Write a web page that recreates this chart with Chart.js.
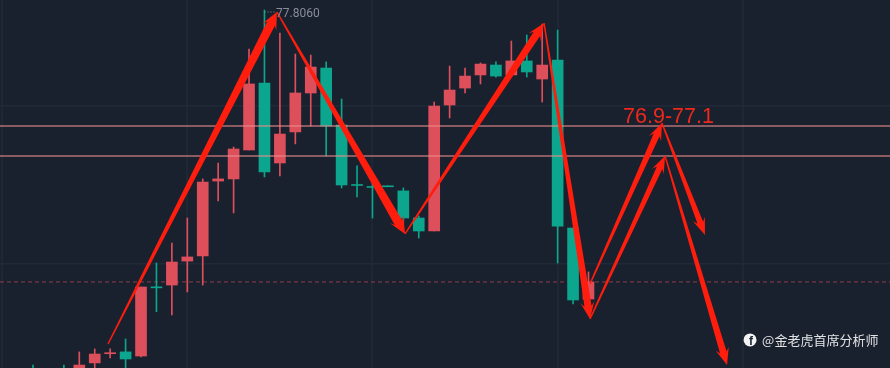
<!DOCTYPE html>
<html>
<head>
<meta charset="utf-8">
<style>html,body{margin:0;padding:0;background:#1a212e;overflow:hidden}canvas{display:block}</style>
<script src="https://cdn.jsdelivr.net/npm/chart.js@4"></script>
</head>
<body>
<canvas id="c" width="890" height="368"></canvas>
<script>
const opens  = [75.60,75.55,75.60,75.58,75.658,75.714,75.725,75.700,76.121,76.132,76.278,76.309,76.765,76.778,76.954,77.362,76.875,77.064,77.301,77.453,77.106,76.744,76.732,76.736,76.705,76.540,76.461,77.228,77.331,77.411,77.471,77.411,77.496,77.386,77.502,76.479,76.047];
const highs  = [75.645,75.60,75.645,75.725,75.743,75.743,75.804,76.120,76.266,76.388,76.540,76.778,76.875,76.972,77.569,77.806,77.666,77.538,77.532,77.490,77.264,76.857,76.759,76.736,76.723,76.552,77.246,77.465,77.453,77.484,77.490,77.617,77.654,77.720,77.684,76.479,76.212];
const lows   = [75.50,75.45,75.50,75.55,75.60,75.688,75.60,75.694,75.970,75.950,76.090,76.132,76.644,76.571,76.954,76.790,76.796,76.991,77.100,76.918,76.723,76.668,76.540,76.730,76.510,76.418,76.461,77.149,77.301,77.356,77.398,77.411,77.398,77.246,76.266,76.017,76.047];
const closes = [75.58,75.50,75.57,75.645,75.712,75.720,75.682,76.120,76.115,76.272,76.303,76.759,76.778,76.960,77.356,76.820,77.051,77.301,77.459,77.100,76.741,76.738,76.726,76.730,76.540,76.461,77.222,77.319,77.404,77.477,77.404,77.496,77.429,77.471,76.491,76.041,76.151];

const xMin = -2.139, xMax = 55.54, yMin = 75.627, yMax = 77.867;
const gridIndexes = [-2,10,22,34,46];
const gridPrices = [77.222,76.260];
const zoneLevels = [77.100,76.918];
const lastPrice = 76.151;

const arrowFromX = [4.86,15.81,24.11,33.12,36.10,36.10,40.76,40.96];
const arrowFromY = [75.773,77.794,76.443,77.727,76.139,75.925,77.118,76.918];
const arrowToX   = [15.81,24.11,33.12,36.10,40.76,40.96,43.55,44.98];
const arrowToY   = [77.794,76.443,77.727,75.925,77.118,76.918,76.437,75.645];

const zoneLabel = '76.9-77.1';
const highLabel = '77.8060';
const watermark = '@金老虎首席分析师';

const RED='#de4f5c', GREEN='#0ba68d';
const idx = opens.map((_,i)=>i);
const colors = idx.map(i=>closes[i]>=opens[i]?RED:GREEN);

const overlay = {
  id:'overlay',
  afterDatasetsDraw(chart){
    const {ctx,scales:{x,y}} = chart;
    ctx.save();
    ctx.fillStyle='#ff1d0d';
    const shaft=[4.4,4.4,3.8,3.6,3.2,3.0,3.0,3.4];
    arrowFromX.forEach((_,k)=>{
      const x0=x.getPixelForValue(arrowFromX[k]), y0=y.getPixelForValue(arrowFromY[k]);
      const x1=x.getPixelForValue(arrowToX[k]), y1=y.getPixelForValue(arrowToY[k]);
      const L=Math.hypot(x1-x0,y1-y0), ux=(x1-x0)/L, uy=(y1-y0)/L, nx=-uy, ny=ux;
      const P=(a,b)=>[x0+ux*a+nx*b,y0+uy*a+ny*b];
      const s=shaft[k], pts=[P(0,-.7),P(L-13,-s),P(L-17,-s-3.4),P(L,0),P(L-17,s+3.4),P(L-13,s),P(0,.7)];
      ctx.beginPath();
      pts.forEach((p,i)=>i?ctx.lineTo(p[0],p[1]):ctx.moveTo(p[0],p[1]));
      ctx.closePath();ctx.fill();
    });
    ctx.textBaseline='alphabetic';
    ctx.fillStyle='#f0281a';
    ctx.font='21.5px "Liberation Sans"';
    ctx.fillText(zoneLabel,x.getPixelForValue(38.24),y.getPixelForValue(77.118));
    ctx.fillStyle='#878d9a';
    ctx.font='12px Roboto';
    ctx.textBaseline='middle';
    ctx.fillText(highLabel,x.getPixelForValue(15.75),y.getPixelForValue(77.782));
    ctx.strokeStyle='#878d9a';ctx.lineWidth=1;ctx.setLineDash([1,2]);
    ctx.beginPath();
    ctx.moveTo(x.getPixelForValue(15.0),y.getPixelForValue(77.794));
    ctx.lineTo(x.getPixelForValue(15.75),y.getPixelForValue(77.794));
    ctx.stroke();ctx.setLineDash([]);
    const ix=x.getPixelForValue(46.47), iy=y.getPixelForValue(75.798);
    ctx.fillStyle='#f2f2f2';
    ctx.beginPath();ctx.arc(ix,iy,6.5,0,Math.PI*2);ctx.fill();
    ctx.fillStyle='#1a212e';
    ctx.font='bold 12px "Liberation Sans"';
    ctx.textAlign='center';
    ctx.fillText('f',ix+1,iy+2);
    ctx.textAlign='left';
    ctx.fillStyle='#e2e3e5';
    ctx.font='13px "Noto Sans CJK SC"';
    ctx.fillText(watermark,x.getPixelForValue(47.25),iy);
    ctx.restore();
  }
};

const hline=(v,color,width,dash,order)=>({type:'line',data:[{x:xMin,y:v},{x:xMax,y:v}],borderColor:color,borderWidth:width,borderDash:dash,pointRadius:0,order});

new Chart(document.getElementById('c'),{
  data:{datasets:[
    hline(zoneLevels[0],'rgba(235,140,140,.55)',2,[],1),
    hline(zoneLevels[1],'rgba(235,140,140,.55)',2,[],1),
    hline(lastPrice,'rgba(222,79,92,.6)',1,[4,3],4),
    {type:'bar',data:idx.map(i=>({x:i,y:[opens[i],closes[i]]})),backgroundColor:colors,barThickness:11,grouped:false,order:2},
    {type:'bar',data:idx.map(i=>({x:i,y:[lows[i],highs[i]]})),backgroundColor:colors,barThickness:1,grouped:false,order:3}
  ]},
  options:{
    responsive:false,animation:false,
    layout:{padding:0},
    plugins:{legend:{display:false},tooltip:{enabled:false}},
    scales:{
      x:{type:'linear',offset:false,min:xMin,max:xMax,border:{display:false},
         afterBuildTicks:s=>{s.ticks=gridIndexes.map(v=>({value:v}))},
         ticks:{display:false},grid:{offset:false,color:'#1e2733',lineWidth:2,drawTicks:false}},
      y:{type:'linear',min:yMin,max:yMax,border:{display:false},
         afterBuildTicks:s=>{s.ticks=gridPrices.map(v=>({value:v}))},
         ticks:{display:false},grid:{color:'#202937',lineWidth:1.5,drawTicks:false}}
    }
  },
  plugins:[overlay]
});
</script>
</body>
</html>
